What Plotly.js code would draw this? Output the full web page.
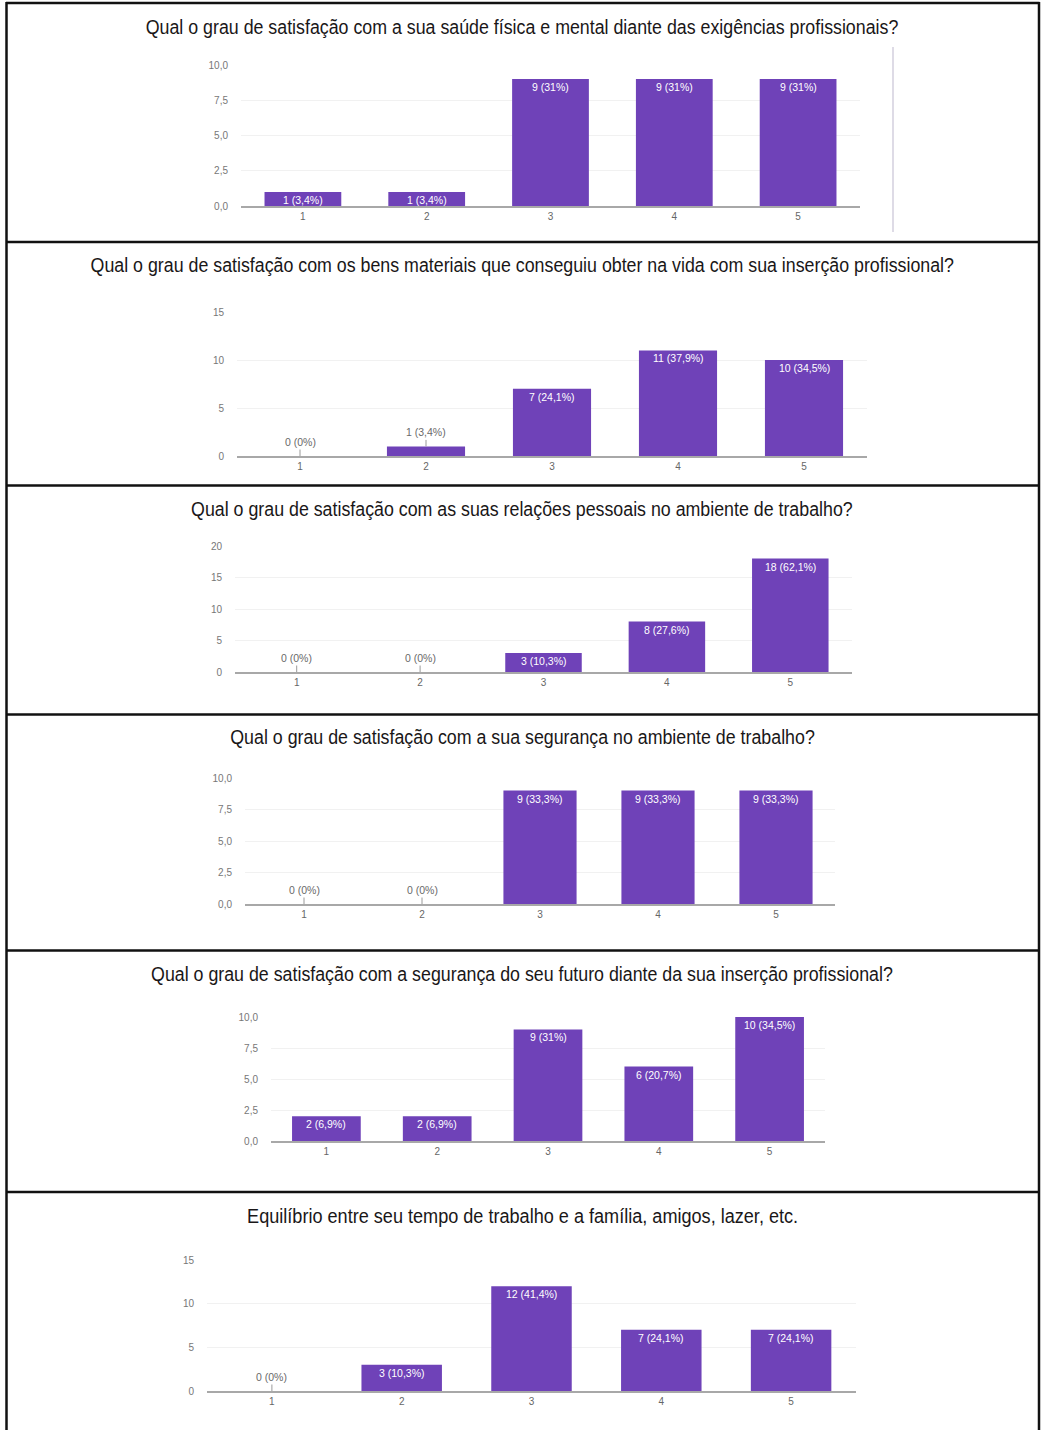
<!DOCTYPE html>
<html>
<head>
<meta charset="utf-8">
<script src="https://cdn.plot.ly/plotly-3.0.1.min.js"></script>
<style>html,body{margin:0;padding:0;background:#fff;}#chart{width:1041px;height:1430px;}</style>
</head>
<body>
<div id="chart"></div>
<script>
// ---- DATA ----
const categories = ['1', '2', '3', '4', '5'];
const titles = [
  'Qual o grau de satisfação com a sua saúde física e mental diante das exigências profissionais?',
  'Qual o grau de satisfação com os bens materiais que conseguiu obter na vida com sua inserção profissional?',
  'Qual o grau de satisfação com as suas relações pessoais no ambiente de trabalho?',
  'Qual o grau de satisfação com a sua segurança no ambiente de trabalho?',
  'Qual o grau de satisfação com a segurança do seu futuro diante da sua inserção profissional?',
  'Equilíbrio entre seu tempo de trabalho e a família, amigos, lazer, etc.'
];
const saudeFisicaMental   = [1, 1, 9, 9, 9];
const bensMateriais       = [0, 1, 7, 11, 10];
const relacoesPessoais    = [0, 0, 3, 8, 18];
const segurancaTrabalho   = [0, 0, 9, 9, 9];
const segurancaFuturo     = [2, 2, 9, 6, 10];
const equilibrioTempo     = [0, 3, 12, 7, 7];
const seriesList = [saudeFisicaMental, bensMateriais, relacoesPessoais, segurancaTrabalho, segurancaFuturo, equilibrioTempo];
const yMax   = [10, 15, 20, 10, 10, 15];
const yStep  = [2.5, 5, 5, 2.5, 2.5, 5];
const yFmt   = ['.1f', 'd', 'd', '.1f', '.1f', 'd'];

// ---- LAYOUT (pixel boxes of each plot area) ----
const W = 1041, H = 1430;
const boxes = [
  {x0: 241, x1: 860, y0: 65,   y1: 206,  ty: 27},
  {x0: 237, x1: 867, y0: 312,  y1: 456,  ty: 265},
  {x0: 235, x1: 852, y0: 546,  y1: 672,  ty: 509},
  {x0: 245, x1: 835, y0: 778,  y1: 904,  ty: 737},
  {x0: 271, x1: 825, y0: 1017, y1: 1141, ty: 974},
  {x0: 207, x1: 856, y0: 1260, y1: 1391, ty: 1216}
];
const titleScale = [0.89, 0.89, 0.89, 0.89, 0.89, 0.905];
const px = v => v / W;
const py = v => 1 - v / H;

const BAR = '#6f42b8';
const data = [];
const annotations = [];
const titleIdx = [];
const layout = {
  width: W, height: H,
  margin: {l: 0, r: 0, t: 0, b: 0},
  paper_bgcolor: '#ffffff', plot_bgcolor: '#ffffff',
  showlegend: false,
  separators: ', ',
  font: {family: 'Liberation Sans, Arial, sans-serif', color: '#666'},
  shapes: [],
  annotations: annotations
};

function fmtPct(v, total) {
  const p = Math.round(v / total * 1000) / 10;
  let s = p.toFixed(1).replace('.', ',');
  if (s.endsWith(',0')) s = s.slice(0, -2);
  return s + '%';
}

seriesList.forEach((vals, i) => {
  const b = boxes[i];
  const k = i === 0 ? '' : String(i + 1);
  const xa = 'xaxis' + k, ya = 'yaxis' + k;
  const total = vals.reduce((a, c) => a + c, 0);
  data.push({
    type: 'bar', x: categories, y: vals,
    xaxis: 'x' + k, yaxis: 'y' + k,
    marker: {color: BAR}, width: 0.62,
    textposition: 'none', hoverinfo: 'skip'
  });
  layout[xa] = {
    domain: [px(b.x0), px(b.x1)], anchor: 'y' + k,
    type: 'category', range: [-0.5, 4.5],
    showgrid: false, zeroline: false,
    showline: true, linecolor: '#a8a8a8', linewidth: 2,
    ticks: '', tickfont: {size: 10, color: '#666', family: 'Liberation Sans, Arial, sans-serif'},
    fixedrange: true
  };
  layout[ya] = {
    domain: [py(b.y1), py(b.y0)], anchor: 'x' + k,
    range: [0, yMax[i]], dtick: yStep[i], tick0: 0, tickformat: yFmt[i],
    showgrid: true, gridcolor: '#f1f1f1', gridwidth: 1,
    zeroline: false, showline: false,
    ticks: 'outside', ticklen: 10, tickcolor: 'rgba(0,0,0,0)',
    tickfont: {size: 10, color: '#777', family: 'Liberation Sans, Arial, sans-serif'},
    fixedrange: true
  };
  // title
  titleIdx.push(annotations.length);
  annotations.push({
    xref: 'paper', yref: 'paper', x: px(522), y: py(b.ty),
    xanchor: 'center', yanchor: 'middle', showarrow: false,
    text: titles[i],
    font: {family: 'Liberation Sans, Arial, sans-serif', size: 20, color: '#1a1718'}
  });
  // value labels
  const hPx = b.y1 - b.y0;
  vals.forEach((v, j) => {
    const label = v + ' (' + fmtPct(v, total) + ')';
    const barPx = v / yMax[i] * hPx;
    if (barPx >= 12) {
      annotations.push({
        xref: 'x' + k, yref: 'y' + k, x: j, y: v,
        yanchor: 'top', yshift: 0, showarrow: false, text: label,
        font: {size: 10.5, color: '#ffffff', family: 'Liberation Sans, Arial, sans-serif'}
      });
    } else {
      annotations.push({
        xref: 'x' + k, yref: 'y' + k, x: j, y: v,
        showarrow: true, arrowhead: 0, arrowwidth: 1, arrowcolor: '#9a9a9a',
        ax: 0, ay: -14, standoff: 0, text: label,
        font: {size: 10.5, color: '#6a6a6a', family: 'Liberation Sans, Arial, sans-serif'}
      });
    }
  });
});

// panel borders
const lineStyle = {color: '#111', width: 2.5};
const hLines = [3, 242, 485.5, 714.5, 950.5, 1192];
hLines.forEach(y => layout.shapes.push({type: 'line', xref: 'paper', yref: 'paper',
  x0: px(6), x1: px(1039.5), y0: py(y), y1: py(y), line: lineStyle}));
[6.5, 1039].forEach(x => layout.shapes.push({type: 'line', xref: 'paper', yref: 'paper',
  x0: px(x), x1: px(x), y0: py(2), y1: 0, line: lineStyle}));
// faint vertical divider in first panel
layout.shapes.push({type: 'line', xref: 'paper', yref: 'paper',
  x0: px(893), x1: px(893), y0: py(47), y1: py(232), line: {color: '#dedbe6', width: 2}});

Plotly.newPlot('chart', data, layout, {displayModeBar: false, staticPlot: true}).then(gd => {
  // condensed look for the panel titles (text stays real SVG text)
  titleIdx.forEach((idx, n) => {
    const t = gd.querySelector('.annotation[data-index="' + idx + '"] text.annotation-text');
    if (t) {
      t.style.transformBox = 'fill-box';
      t.style.transformOrigin = 'center';
      t.style.transform = 'scaleX(' + titleScale[n] + ')';
    }
  });
});
</script>
</body>
</html>
